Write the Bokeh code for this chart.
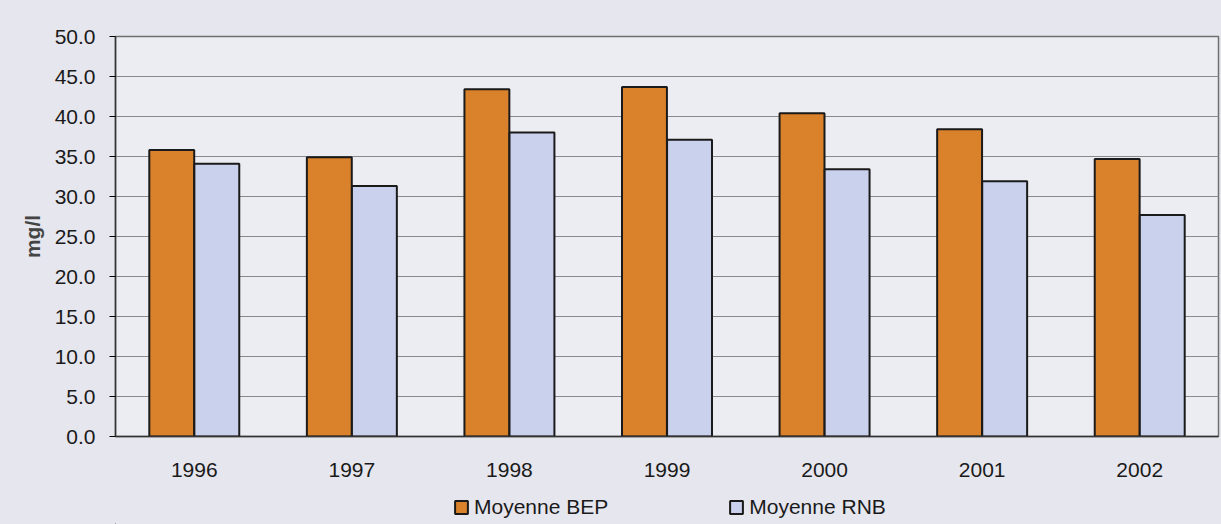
from bokeh.plotting import figure
from bokeh.layouts import column
from bokeh.models import ColumnDataSource, FactorRange, Legend, LegendItem, Range1d, NumeralTickFormatter, FixedTicker
from bokeh.transform import dodge
from bokeh.embed import file_html
from bokeh.resources import INLINE

years = ["1996", "1997", "1998", "1999", "2000", "2001", "2002"]
bep = [35.8, 34.9, 43.4, 43.7, 40.4, 38.4, 34.7]
rnb = [34.1, 31.3, 38.0, 37.1, 33.4, 31.9, 27.7]
y_ticks = [0, 5, 10, 15, 20, 25, 30, 35, 40, 45, 50]
series_names = ["Moyenne BEP", "Moyenne RNB"]
series_colors = ["#d9822b", "#c9d1ed"]

src = ColumnDataSource(dict(years=years, bep=bep, rnb=rnb))

FONT = "Liberation Sans"
BG = "#e6e6ee"
p = figure(x_range=FactorRange(*years), y_range=Range1d(0, 50),
           width=1221, height=480, output_backend="svg", toolbar_location=None,
           min_border_left=115, min_border_right=3, min_border_top=36, min_border_bottom=44)
p.background_fill_color = "#ececf3"
p.border_fill_color = BG
p.outline_line_color = "#707070"
p.outline_line_width = 1.5

p.vbar(x=dodge("years", -0.143, range=p.x_range), top="bep", width=0.285, source=src,
       fill_color=series_colors[0], line_color="#1a1a1a", line_width=2)
p.vbar(x=dodge("years", 0.143, range=p.x_range), top="rnb", width=0.285, source=src,
       fill_color=series_colors[1], line_color="#1a1a1a", line_width=2)

p.xgrid.grid_line_color = None
p.ygrid.grid_line_color = "#8a8a8a"
p.ygrid.grid_line_width = 1.2
p.yaxis.ticker = FixedTicker(ticks=y_ticks)
p.yaxis.formatter = NumeralTickFormatter(format="0.0")
p.yaxis.major_label_text_font = FONT
p.yaxis.major_label_text_font_size = "21px"
p.yaxis.major_label_text_color = "#1a1a1a"
p.yaxis.major_tick_out = 6
p.yaxis.major_tick_in = 0
p.yaxis.minor_tick_line_color = None
p.yaxis.major_label_standoff = 14
p.yaxis.axis_line_color = "#333333"
p.yaxis.axis_line_width = 1.5
p.yaxis.axis_label = "mg/l"
p.yaxis.axis_label_text_font = FONT
p.yaxis.axis_label_text_font_style = "bold"
p.yaxis.axis_label_text_font_size = "21px"
p.yaxis.axis_label_standoff = 8

p.xaxis.major_label_text_font = FONT
p.xaxis.major_label_text_font_size = "21px"
p.xaxis.major_label_text_color = "#1a1a1a"
p.xaxis.major_tick_line_color = None
p.xaxis.major_label_standoff = 20
p.xaxis.axis_line_color = "#333333"
p.xaxis.axis_line_width = 1.5

# legend strip below the chart
q = figure(width=1221, height=44, output_backend="svg", toolbar_location=None,
           x_range=Range1d(0, 1), y_range=Range1d(0, 1), x_axis_type=None, y_axis_type=None,
           min_border_left=0, min_border_right=0, min_border_top=0, min_border_bottom=0)
q.background_fill_color = None
q.border_fill_color = BG
q.outline_line_color = None
q.xgrid.grid_line_color = None
q.ygrid.grid_line_color = None
items = []
for name, col in zip(series_names, series_colors):
    # legend swatch renderer, placed outside the visible range
    r = q.vbar(x=[-5], top=[-5], width=0.1, fill_color=col, line_color="#1a1a1a", line_width=2)
    items.append(LegendItem(label=name, renderers=[r]))
legend = Legend(items=items, location=(338, 5), orientation="horizontal", spacing=120,
                background_fill_alpha=0, border_line_color=None, padding=0, margin=0,
                glyph_width=16, glyph_height=16, label_height=16, label_standoff=5,
                label_text_font=FONT, label_text_font_size="21px", label_text_color="#1a1a1a")
q.add_layout(legend, "center")

layout = column(p, q, spacing=0, styles={"background-color": BG})
open("out.html", "w").write(file_html(layout, INLINE))
